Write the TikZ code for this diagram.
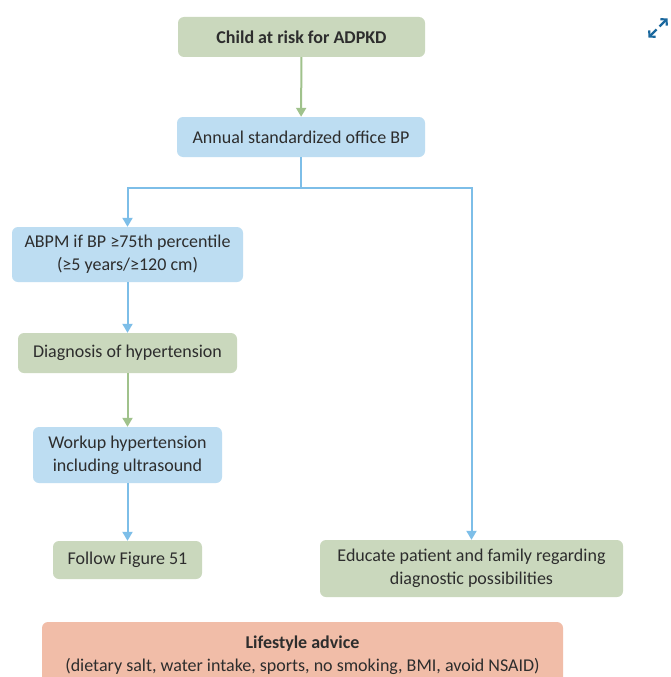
\documentclass[tikz,border=0pt]{standalone}
\usepackage{fontspec}
\setmainfont{Carlito}
\usetikzlibrary{arrows.meta,positioning,calc}
\definecolor{boxgreen}{RGB}{202,216,189}
\definecolor{boxblue}{RGB}{189,221,242}
\definecolor{boxsalmon}{RGB}{241,189,168}
\definecolor{linegreen}{RGB}{160,194,140}
\definecolor{lineblue}{RGB}{125,190,232}
\definecolor{textgray}{RGB}{45,45,45}
\definecolor{icondark}{RGB}{27,104,158}
\tikzset{
	block/.style = {
		rectangle, 
		rounded corners=6pt, 
		align=center, 
		text=textgray, 
		inner sep=0pt, 
		font=\fontsize{18}{23}\selectfont
	},
	gblock/.style = {block, fill=boxgreen},
	bblock/.style = {block, fill=boxblue},
	rblock/.style = {block, fill=boxsalmon},
	gsignal/.style = {
		-{Triangle[width=10pt,length=9pt]}, 
		line width=2pt, 
		draw=linegreen
	},
	bsignal/.style = {
		-{Triangle[width=10pt,length=9pt]}, 
		line width=2pt, 
		draw=lineblue
	}
}
\begin{document}
\begin{tikzpicture}[x=1pt, y=-1pt]
		
		\useasboundingbox (0,0) rectangle (671,677);
		\fill[white] (0,0) rectangle (671,677);
		
		\node [gblock, minimum width=247pt, minimum height=40pt] (child) at (301.5,37) {\textbf{Child at risk for ADPKD}};
		
		\node [bblock, minimum width=248pt, minimum height=40pt] (annual) at (301,137) {Annual standardized office BP};
		
		\node [bblock, minimum width=231pt, minimum height=55pt] (abpm) at (127.5,254.5) {ABPM if BP ≥75th percentile\\(≥5 years/≥120 cm)};
		
		\node [gblock, minimum width=219pt, minimum height=40pt] (diag) at (127.5,353) {Diagnosis of hypertension};
		
		\node [bblock, minimum width=189pt, minimum height=56pt] (workup) at (127.5,455) {Workup hypertension\\including ultrasound};
		
		\node [gblock, minimum width=149pt, minimum height=38pt] (follow) at (127.5,560) {Follow Figure 51};
		
		\node [gblock, minimum width=303pt, minimum height=57pt] (educate) at (471.5,568.5) {Educate patient and family regarding\\diagnostic possibilities};
		
		\node [rblock, minimum width=521pt, minimum height=66pt] (life) at (302.5,655) {\textbf{Lifestyle advice}\\(dietary salt, water intake, sports, no smoking, BMI, avoid NSAID)};
		
		% --- Conexiones ---
		\draw [gsignal] (child) -- (annual);
		\coordinate (split) at ($(annual.south)+(0,31)$);
		\draw [bsignal] (annual.south) -- (split) -| (abpm.north);
		\draw [bsignal] (split) -| (educate.north);
		\draw [bsignal] (abpm) -- (diag);
		\draw [gsignal] (diag) -- (workup);
		\draw [bsignal] (workup) -- (follow);
		
		% icono de ampliar, arriba a la derecha
		\coordinate (icon) at (658,28);
		\draw [icondark, line width=2.2pt, -{Straight Barb[length=4pt,width=9pt]}] ($(icon)+(1.5,-1.5)$) -- ++(8,-8);
		\draw [icondark, line width=2.2pt, -{Straight Barb[length=4pt,width=9pt]}] ($(icon)+(-1.5,1.5)$) -- ++(-8,8);
		
	\end{tikzpicture}
\end{document}
